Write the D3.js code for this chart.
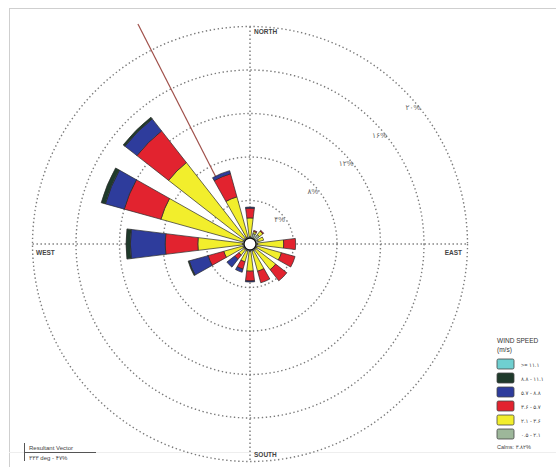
<!DOCTYPE html>
<html>
<head>
<meta charset="utf-8">
<script src="https://cdn.jsdelivr.net/npm/d3@7"></script>
<style>
  html, body { margin: 0; padding: 0; background: #fff; }
  svg { display: block; }
  text { font-family: "Liberation Sans", "DejaVu Sans", Arial, sans-serif; direction: ltr; unicode-bidi: plaintext; }
</style>
</head>
<body>
<svg id="chart" width="556" height="467"></svg>
<script>
// ---------- data ----------
const directions = [0, 22.5, 45, 67.5, 90, 112.5, 135, 157.5, 180, 202.5, 225, 247.5, 270, 292.5, 315, 337.5];
const speedClasses = ["۰.۵ - ۲.۱", "۲.۱ - ۳.۶", "۳.۶ - ۵.۷", "۵.۷ - ۸.۸", "۸.۸ - ۱۱.۱", ">= ۱۱.۱"];
const classColors = ["#9db79a", "#f2ee2c", "#e2232f", "#2e3c9c", "#1f3a2b", "#6fcfd0"];
// frequency (%) per direction for each speed class
const s0521  = [0.7, 1.0, 1.1, 0.8, 0.7, 0.7, 0.7, 0.7, 0.7, 0.7, 0.7, 0.7, 0.7, 0.7, 0.7, 0.7];
const s2136  = [1.7, 0.2, 0.4, 0.5, 2.4, 2.3, 2.3, 1.9, 1.8, 1.0, 0.6, 1.8, 4.1, 7.8, 8.8, 3.8];
const s3657  = [0.9, 0.1, 0.1, 0.0, 1.1, 1.3, 1.3, 1.1, 0.9, 0.7, 0.5, 1.5, 3.0, 3.5, 3.7, 2.2];
const s5788  = [0.1, 0.0, 0.0, 0.0, 0.0, 0.0, 0.0, 0.0, 0.1, 0.3, 0.9, 1.8, 3.2, 1.8, 1.4, 0.3];
const s88111 = [0.0, 0.0, 0.0, 0.0, 0.0, 0.0, 0.0, 0.0, 0.0, 0.0, 0.0, 0.1, 0.4, 0.4, 0.2, 0.0];
const s111   = [0.0, 0.0, 0.0, 0.0, 0.0, 0.0, 0.0, 0.0, 0.0, 0.0, 0.0, 0.0, 0.0, 0.0, 0.0, 0.0];
const ringValues = [4, 8, 12, 16, 20];
const ringLabels = ["۴%", "۸%", "۱۲%", "۱۶%", "۲۰%"];
const compassLabels = ["NORTH", "EAST", "SOUTH", "WEST"];
const resultantDir = 333;
const resultantLen = 22.7;
const resultantText = "۳۳۳ deg - ۴۷%";
const calmsText = "Calms: ۳.۸۲%";
const legendTitle = ["WIND SPEED", "(m/s)"];

// ---------- drawing ----------
const LRM = "\u200E";
const series = [s0521, s2136, s3657, s5788, s88111, s111];
const svg = d3.select("#chart");
const cx = 250, cy = 244;
const r = d3.scaleLinear().domain([0, 20]).range([0, 217.5]);
const rad = d => d * Math.PI / 180;

// frame
svg.append("line").attr("x1", 9).attr("y1", 8.5).attr("x2", 556).attr("y2", 8.5).attr("stroke", "#cfcfcf");
svg.append("line").attr("x1", 9.5).attr("y1", 8).attr("x2", 9.5).attr("y2", 467).attr("stroke", "#cfcfcf");
svg.append("line").attr("x1", 9).attr("y1", 452.5).attr("x2", 556).attr("y2", 452.5).attr("stroke", "#eeeeee");

const g = svg.append("g").attr("transform", `translate(${cx},${cy})`);

// rings
g.selectAll("circle.ring").data(ringValues).join("circle")
  .attr("class", "ring").attr("r", d => r(d))
  .attr("fill", "none").attr("stroke", "#7a7a7a").attr("stroke-width", 1.4)
  .attr("stroke-dasharray", "1.4,2.6");

// axes
const rMax = r(20);
g.append("line").attr("x1", 0).attr("y1", -rMax).attr("x2", 0).attr("y2", rMax)
  .attr("stroke", "#7a7a7a").attr("stroke-width", 1.4).attr("stroke-dasharray", "1.4,2.6");
g.append("line").attr("x1", -rMax).attr("y1", 0).attr("x2", rMax).attr("y2", 0)
  .attr("stroke", "#7a7a7a").attr("stroke-width", 1.4).attr("stroke-dasharray", "1.4,2.6");

// ring labels
const labAng = rad(50);
g.selectAll("text.ringlab").data(ringValues).join("text")
  .attr("class", "ringlab")
  .attr("x", (d) => (r(d) - 5) * Math.sin(labAng))
  .attr("y", (d) => -(r(d) - 5) * Math.cos(labAng) + 3)
  .attr("text-anchor", "middle")
  .attr("font-size", 7.5).attr("fill", "#666")
  .text((d, i) => LRM + ringLabels[i] + LRM);

// resultant vector (under the petals)
g.append("line").attr("x1", 0).attr("y1", 0)
  .attr("x2", r(resultantLen) * Math.sin(rad(resultantDir)))
  .attr("y2", -r(resultantLen) * Math.cos(rad(resultantDir)))
  .attr("stroke", "#a0504a").attr("stroke-width", 1.2);

// petals
const halfW = rad(7);
const arc = d3.arc();
const petals = [];
directions.forEach((dir, i) => {
  let cum = 0;
  series.forEach((s, k) => {
    const v = s[i];
    if (v > 0) {
      petals.push({ dir, k, inner: cum, outer: cum + v });
    }
    cum += v;
  });
});
g.selectAll("path.petal").data(petals).join("path")
  .attr("class", "petal")
  .attr("d", d => arc({
    innerRadius: r(d.inner), outerRadius: r(d.outer),
    startAngle: rad(d.dir) - halfW, endAngle: rad(d.dir) + halfW
  }))
  .attr("fill", d => classColors[d.k])
  .attr("stroke", "#2a2a2a").attr("stroke-width", 0.7);

// calm circle
g.append("circle").attr("r", 6).attr("fill", "#fff").attr("stroke", "#111").attr("stroke-width", 1.3);

// compass labels
const compassPos = [
  { x: cx + 4, y: 34, a: "start" },
  { x: 462, y: cy + 11, a: "end" },
  { x: cx + 4, y: 457, a: "start" },
  { x: 36, y: cy + 11, a: "start" }
];
compassLabels.forEach((t, i) => {
  svg.append("text").attr("x", compassPos[i].x).attr("y", compassPos[i].y)
    .attr("text-anchor", compassPos[i].a)
    .attr("font-size", 6.5).attr("font-weight", "bold").attr("fill", "#444")
    .text(t);
});

// legend
const lx = 497;
svg.append("text").attr("x", lx).attr("y", 343).attr("font-size", 6.5).attr("fill", "#333").text(legendTitle[0]);
svg.append("text").attr("x", lx).attr("y", 352).attr("font-size", 6.5).attr("fill", "#333").text(legendTitle[1]);
const legendOrder = [5, 4, 3, 2, 1, 0];
const ly = d3.scaleLinear().domain([0, 5]).range([359, 429]);
legendOrder.forEach((k, j) => {
  svg.append("rect").attr("x", lx).attr("y", ly(j)).attr("width", 17).attr("height", 10)
    .attr("rx", 1.5).attr("fill", classColors[k]).attr("stroke", "#444").attr("stroke-width", 0.8);
  svg.append("text").attr("x", lx + 24).attr("y", ly(j) + 7.5)
    .attr("font-size", 5.5).attr("fill", "#444").text(LRM + speedClasses[k]);
});
svg.append("text").attr("x", lx).attr("y", 449).attr("font-size", 5.5).attr("fill", "#444").text(calmsText + LRM);

// resultant vector legend
svg.append("line").attr("x1", 24.5).attr("y1", 443).attr("x2", 24.5).attr("y2", 461).attr("stroke", "#555");
svg.append("line").attr("x1", 24).attr("y1", 452.5).attr("x2", 96).attr("y2", 452.5).attr("stroke", "#555");
svg.append("text").attr("x", 29).attr("y", 450).attr("font-size", 6).attr("fill", "#444").text("Resultant Vector");
svg.append("text").attr("x", 29).attr("y", 460).attr("font-size", 6).attr("fill", "#444").text(resultantText + LRM);
</script>
</body>
</html>
